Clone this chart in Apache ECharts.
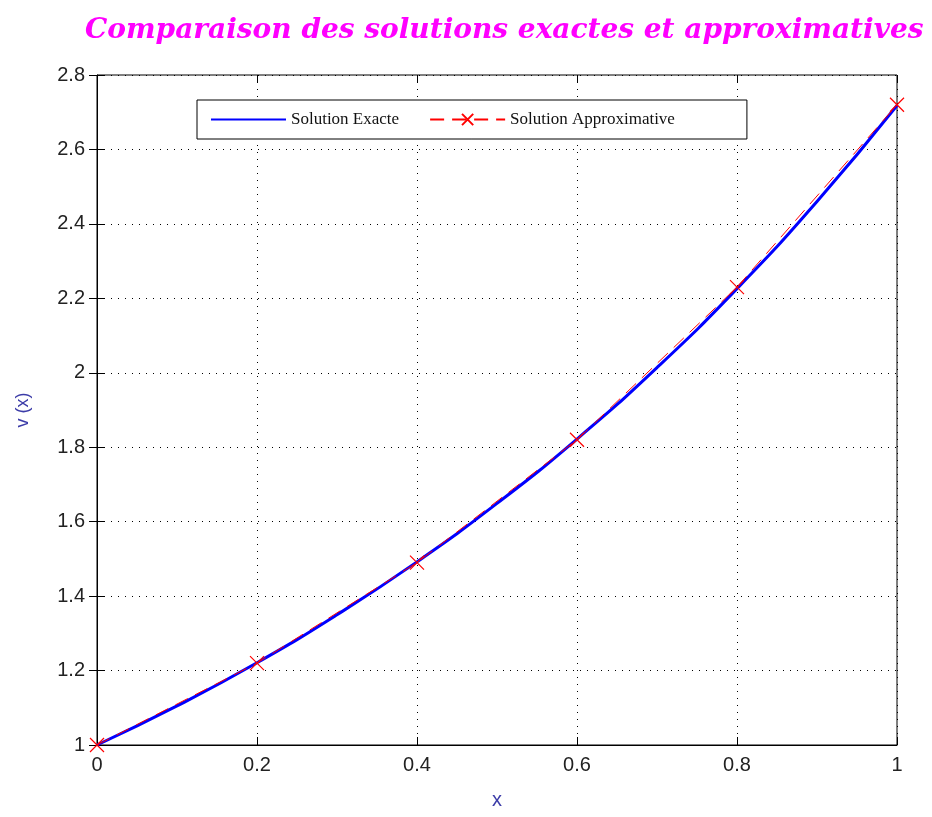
<!DOCTYPE html>
<html>
<head>
<meta charset="utf-8">
<script src="https://cdn.jsdelivr.net/npm/echarts@6/dist/echarts.min.js"></script>
<style>html,body{margin:0;padding:0;background:#fff}#c{width:932px;height:817px}</style>
</head>
<body>
<div id="c"></div>
<script>
const exactX = [0, 0.1, 0.2, 0.3, 0.4, 0.5, 0.6, 0.7, 0.8, 0.9, 1.0];
const exactY = [1.0, 1.105, 1.221, 1.350, 1.492, 1.649, 1.822, 2.014, 2.226, 2.460, 2.718];
const approxX = [0, 0.2, 0.4, 0.6, 0.8, 1.0];
const approxY = [1.0, 1.22, 1.49, 1.82, 2.23, 2.72];
const xTicks = [0, 0.2, 0.4, 0.6, 0.8, 1];
const yTicks = [1, 1.2, 1.4, 1.6, 1.8, 2, 2.2, 2.4, 2.6, 2.8];

const chart = echarts.init(document.getElementById('c'));
const crossPath = 'path://M0,0L10,10M10,0L0,10';
const tickLbl = {color: '#222', fontSize: 20, fontFamily: 'Liberation Sans, Arial, sans-serif'};
chart.setOption({
  backgroundColor: '#fff',
  animation: false,
  title: {
    text: 'Comparaison des solutions exactes et approximatives',
    left: 80, top: 12,
    textStyle: {color: '#ff00ff', fontSize: 28, fontStyle: 'italic', fontWeight: 'bold', fontFamily: 'DejaVu Serif, serif'}
  },
  grid: {left: 97, right: 35, top: 75, bottom: 72, show: true, borderColor: '#000', borderWidth: 1},
  legend: {
    left: 197, top: 100,
    padding: [11, 72, 11, 13],
    borderColor: '#000', borderWidth: 1, backgroundColor: '#fff',
    itemWidth: 75, itemHeight: 14, itemGap: 30,
    textStyle: {fontFamily: 'Liberation Serif, serif', fontSize: 17, color: '#111'},
    data: [
      {name: 'Solution Exacte', itemStyle: {opacity: 0}},
      {name: 'Solution Approximative'}
    ]
  },
  xAxis: [{
    type: 'value', min: 0, max: 1, interval: 0.2,
    name: 'x', nameLocation: 'middle', nameGap: 45,
    nameTextStyle: {color: '#3c3ca8', fontSize: 20, fontFamily: 'Liberation Sans, sans-serif'},
    axisLine: {lineStyle: {color: '#000'}},
    axisTick: {inside: true, length: 8, lineStyle: {color: '#000'}},
    axisLabel: Object.assign({margin: 10, formatter: v => String(+v.toFixed(1))}, tickLbl),
    splitLine: {show: true, lineStyle: {color: '#000', type: [1, 6], width: 1}}
  }, {
    type: 'value', min: 0, max: 1, interval: 0.2, position: 'top',
    axisLine: {show: false}, axisLabel: {show: false}, splitLine: {show: false},
    axisTick: {inside: true, length: 8, lineStyle: {color: '#000'}}
  }],
  yAxis: [{
    type: 'value', min: 1, max: 2.8, interval: 0.2,
    name: 'v (x)', nameLocation: 'middle', nameGap: 65, nameRotate: 90,
    nameTextStyle: {color: '#3c3ca8', fontSize: 18, fontFamily: 'Liberation Sans, sans-serif'},
    axisLine: {show: true, lineStyle: {color: '#000'}},
    axisTick: {inside: true, length: 8, lineStyle: {color: '#000'}},
    axisLabel: Object.assign({margin: 12, formatter: v => String(+v.toFixed(1))}, tickLbl),
    splitLine: {show: true, lineStyle: {color: '#000', type: [1, 6], width: 1}}
  }, {
    type: 'value', min: 1, max: 2.8, interval: 0.2, position: 'right',
    axisLine: {show: false}, axisLabel: {show: false}, splitLine: {show: false},
    axisTick: {inside: true, length: 8, lineStyle: {color: '#000'}}
  }],
  series: [{
    name: 'Solution Exacte', type: 'line', smooth: true,
    data: exactX.map((x, i) => [x, exactY[i]]),
    showSymbol: false, symbol: 'none',
    lineStyle: {color: '#0000ff', width: 3},
    itemStyle: {color: '#0000ff'}, z: 2
  }, {
    name: 'Solution Approximative', type: 'line',
    data: approxX.map((x, i) => [x, approxY[i]]),
    symbol: crossPath, symbolSize: 14,
    itemStyle: {color: 'none', borderColor: '#ff0000', borderWidth: 1.2},
    lineStyle: {color: '#ff0000', width: 1, type: [14, 8]}, z: 3
  }]
});
</script>
</body>
</html>
